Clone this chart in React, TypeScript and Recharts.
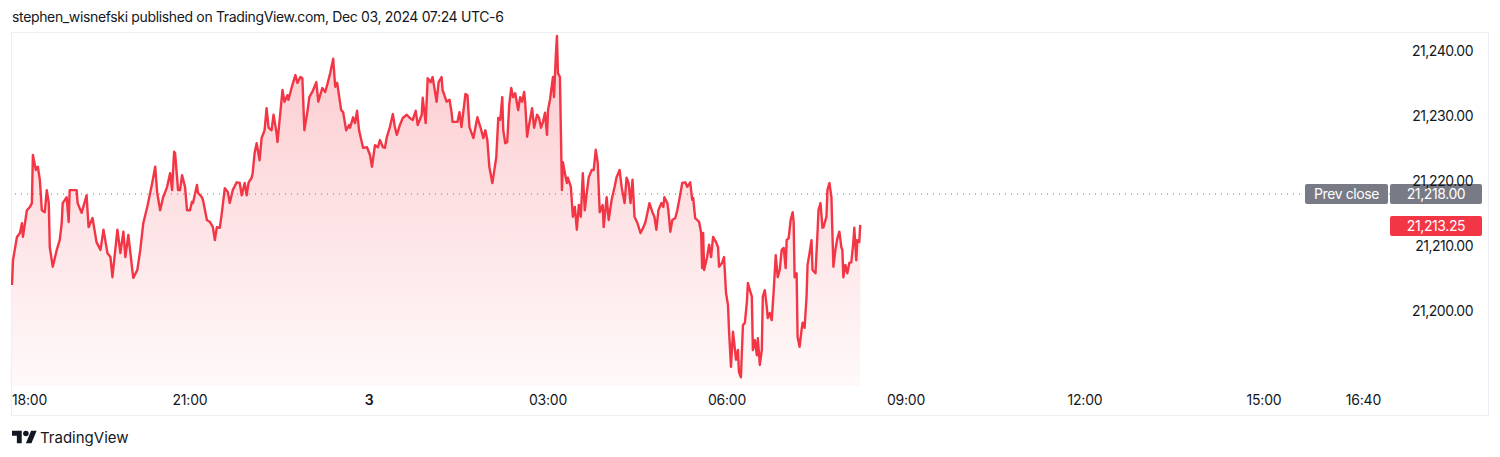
import { AreaChart, Area, XAxis, YAxis, ReferenceLine } from 'recharts';

// minutes since 18:00 (Dec 2 session open)
const times = [
  1, 2, 6, 9, 11, 12, 16, 19, 21, 22,
  25, 27, 29, 31, 34, 36, 38, 39, 42, 46,
  49, 51, 52, 56, 58, 59, 62, 66, 67, 71,
  76, 78, 82, 86, 90, 93, 97, 100, 102, 107,
  110, 113, 115, 118, 122, 123, 127, 130, 133, 137,
  140, 142, 145, 147, 150, 153, 157, 160, 162, 164,
  165, 168, 170, 172, 175, 177, 180, 182, 183, 187,
  188, 192, 193, 197, 200, 203, 205, 207, 210, 212,
  215, 218, 220, 223, 227, 230, 232, 235, 237, 239,
  242, 243, 245, 247, 250, 252, 255, 257, 259, 262,
  264, 267, 268, 273, 275, 278, 279, 283, 286, 288,
  291, 293, 295, 298, 300, 303, 307, 309, 313, 316,
  318, 321, 324, 326, 328, 332, 334, 337, 340, 341,
  344, 346, 348, 350, 353, 354, 358, 361, 363, 366,
  369, 371, 374, 376, 378, 381, 384, 386, 388, 391,
  394, 398, 401, 404, 407, 409, 413, 414, 417, 419,
  422, 424, 428, 430, 433, 434, 438, 441, 443, 444,
  449, 451, 453, 457, 459, 461, 465, 469, 472, 475,
  477, 479, 481, 484, 485, 488, 490, 492, 494, 495,
  497, 499, 501, 503, 505, 507, 510, 512, 514, 516,
  517, 519, 520, 524, 526, 529, 531, 533, 535, 537,
  539, 540, 542, 545, 546, 548, 549, 550, 552, 554,
  555, 557, 559, 560, 563, 565, 567, 569, 571, 573,
  575, 577, 579, 581, 584, 586, 588, 590, 592, 595,
  596, 599, 601, 604, 607, 609, 612, 614, 617, 619,
  621, 623, 625, 627, 630, 633, 636, 638, 640, 642,
  645, 647, 649, 651, 654, 656, 657, 660, 661, 663,
  665, 668, 670, 672, 675, 678, 680, 683, 685, 686,
  688, 690, 692, 694, 695, 696, 697, 700, 702, 704,
  706, 709, 711, 712, 715, 717, 719, 721, 722, 724,
  726, 727, 729, 731, 732, 734, 736, 738, 740, 741,
  743, 745, 746, 748, 750, 751, 753, 755, 756, 758,
  760, 761, 763, 765, 767, 769, 771, 773, 775, 777,
  779, 780, 782, 784, 786, 787, 788, 790, 791, 793,
  795, 796, 798, 800, 801, 803, 805, 806, 809, 811,
  812, 814, 816, 817, 820, 821, 823, 825, 826, 827,
  829, 831, 833, 835, 836, 837, 839, 841, 843, 845,
  847, 848, 850, 851, 853, 854,
];

const prices = [
  21204.0, 21207.8, 21211.4, 21212.0, 21213.5, 21211.4, 21215.5, 21216.0, 21216.6, 21224.0,
  21221.7, 21222.2, 21220.2, 21215.5, 21215.2, 21218.6, 21216.6, 21209.8, 21206.8, 21209.4,
  21210.9, 21213.5, 21216.6, 21217.5, 21213.7, 21218.6, 21218.6, 21218.6, 21216.6, 21215.1,
  21217.8, 21212.9, 21214.3, 21210.6, 21209.4, 21212.5, 21208.9, 21208.3, 21205.2, 21212.5,
  21208.9, 21212.2, 21208.3, 21211.7, 21206.3, 21205.1, 21206.3, 21209.4, 21213.5, 21216.0,
  21218.2, 21219.7, 21222.2, 21218.2, 21215.5, 21217.5, 21219.1, 21221.2, 21218.6, 21224.5,
  21224.3, 21218.6, 21218.6, 21220.9, 21219.1, 21215.5, 21215.5, 21216.8, 21216.6, 21219.4,
  21218.2, 21217.5, 21217.1, 21214.0, 21213.7, 21212.9, 21210.9, 21212.9, 21212.8, 21215.1,
  21218.9, 21218.3, 21216.6, 21218.6, 21219.8, 21219.7, 21217.8, 21219.7, 21217.8, 21219.8,
  21220.5, 21221.2, 21224.3, 21225.8, 21223.2, 21226.6, 21227.8, 21231.2, 21228.2, 21227.8,
  21230.2, 21227.4, 21226.0, 21234.0, 21232.2, 21233.2, 21232.5, 21234.8, 21236.3, 21235.1,
  21236.0, 21235.8, 21227.8, 21230.6, 21232.9, 21233.7, 21235.2, 21232.2, 21234.3, 21233.7,
  21234.8, 21236.6, 21238.8, 21234.5, 21235.1, 21230.9, 21230.6, 21227.8, 21228.6, 21228.2,
  21229.8, 21228.9, 21230.8, 21227.8, 21225.8, 21225.1, 21225.2, 21224.0, 21222.2, 21225.5,
  21225.2, 21226.3, 21225.2, 21225.1, 21226.8, 21228.3, 21230.3, 21228.3, 21227.1, 21228.6,
  21229.7, 21230.2, 21229.7, 21229.4, 21230.8, 21228.6, 21230.2, 21232.8, 21228.9, 21235.8,
  21235.2, 21236.0, 21232.2, 21235.2, 21236.0, 21234.0, 21232.2, 21232.5, 21230.6, 21229.1,
  21229.1, 21230.6, 21228.3, 21233.4, 21233.2, 21228.3, 21226.6, 21229.8, 21228.3, 21226.6,
  21227.8, 21226.3, 21222.2, 21219.7, 21220.6, 21223.7, 21229.7, 21229.4, 21232.9, 21227.8,
  21225.8, 21226.0, 21231.7, 21234.3, 21232.9, 21233.5, 21230.9, 21232.9, 21232.2, 21233.7,
  21232.2, 21226.8, 21227.8, 21231.2, 21228.2, 21230.2, 21229.7, 21228.2, 21229.1, 21230.5,
  21227.1, 21230.9, 21232.5, 21236.0, 21232.9, 21239.7, 21242.3, 21236.6, 21236.0, 21218.6,
  21222.9, 21221.2, 21219.7, 21220.5, 21219.1, 21214.5, 21216.0, 21212.5, 21216.3, 21214.5,
  21221.2, 21215.5, 21218.2, 21220.6, 21221.7, 21221.7, 21224.8, 21222.8, 21215.2, 21216.3,
  21212.9, 21217.5, 21214.0, 21217.1, 21219.1, 21220.6, 21221.7, 21219.1, 21216.6, 21220.5,
  21219.7, 21216.6, 21220.2, 21214.5, 21213.5, 21212.0, 21212.9, 21213.7, 21215.1, 21216.6,
  21215.2, 21214.5, 21212.5, 21215.5, 21216.6, 21216.0, 21217.5, 21216.6, 21215.5, 21212.2,
  21214.0, 21214.3, 21215.5, 21217.1, 21219.7, 21219.8, 21219.1, 21219.8, 21217.1, 21217.4,
  21214.3, 21214.0, 21213.7, 21212.0, 21206.6, 21212.0, 21206.3, 21208.3, 21210.2, 21208.3,
  21211.4, 21210.6, 21209.8, 21206.8, 21207.4, 21208.3, 21202.8, 21200.9, 21197.1, 21191.4,
  21196.8, 21195.5, 21192.5, 21194.0, 21190.6, 21189.8, 21197.8, 21198.2, 21201.4, 21204.3,
  21203.2, 21202.2, 21194.0, 21195.5, 21193.2, 21195.8, 21191.7, 21194.0, 21202.2, 21203.2,
  21200.6, 21198.9, 21199.7, 21198.6, 21203.2, 21208.6, 21205.2, 21206.3, 21209.4, 21209.7,
  21206.6, 21210.9, 21211.2, 21214.0, 21215.2, 21213.7, 21205.2, 21205.8, 21196.0, 21194.5,
  21197.1, 21198.2, 21197.4, 21202.2, 21207.1, 21208.9, 21210.9, 21206.3, 21205.8, 21212.0,
  21215.5, 21216.6, 21212.8, 21212.9, 21214.5, 21218.6, 21219.7, 21217.5, 21212.0, 21206.8,
  21209.4, 21211.2, 21212.2, 21209.8, 21209.4, 21205.2, 21207.1, 21205.8, 21207.4, 21207.5,
  21210.5, 21212.8, 21207.8, 21210.9, 21210.6, 21213.25,
];

const timeTicks = [0, 180, 360, 540, 720, 900, 1080, 1260, 1360];
const timeLabels = ['18:00', '21:00', '3', '03:00', '06:00', '09:00', '12:00', '15:00', '16:40'];
const priceTicks = [21200, 21210, 21220, 21230, 21240];
const prevClose = 21218;
const lastPrice = prices[prices.length - 1];

const data = times.map((t, i) => ({ t, price: prices[i] }));

const RED = '#f23645';
const GREY = '#787b86';
const TEXT = '#131722';

const CHART_W = 1477;
const CHART_H = 382;
const AXIS_W = 98;
const AXIS_H = 29;

const fmt = (v: number) =>
  v.toLocaleString('en-US', { minimumFractionDigits: 2, maximumFractionDigits: 2 });

const TimeTick = (props: any) => {
  const { x, payload } = props;
  const i = timeTicks.indexOf(payload.value);
  const first = i === 0;
  return (
    <text
      x={first ? x + 1 : x}
      y={CHART_H - AXIS_H + 14}
      dy="0.35em"
      textAnchor={first ? 'start' : 'middle'}
      fontSize={14}
      fill={TEXT}
      fontWeight={timeLabels[i] === '3' ? 600 : 400}
      style={{ letterSpacing: '-0.2px' }}
    >
      {timeLabels[i]}
    </text>
  );
};

const PriceTick = (props: any) => {
  const { y, payload } = props;
  return (
    <text
      x={CHART_W - 15}
      y={y}
      dy="0.35em"
      textAnchor="end"
      fontSize={14}
      fill={TEXT}
      style={{ letterSpacing: '-0.5px' }}
    >
      {fmt(payload.value)}
    </text>
  );
};

const tagText = { letterSpacing: '-0.4px' };

const PrevCloseTag = (props: any) => {
  const { viewBox } = props;
  if (!viewBox) return null;
  const right = viewBox.x + viewBox.width;
  const y = viewBox.y;
  return (
    <g>
      <rect x={right - 85} y={y - 10} width={83} height={20} rx={2} fill={GREY} />
      <text x={right - 43.5} y={y} dy="0.35em" textAnchor="middle" fontSize={14} fill="#fff" style={tagText}>
        Prev close
      </text>
      <rect x={right} y={y - 10} width={92} height={20} rx={2} fill={GREY} />
      <text x={right + 46} y={y} dy="0.35em" textAnchor="middle" fontSize={14} fill="#fff" style={tagText}>
        {fmt(prevClose)}
      </text>
    </g>
  );
};

const LastTag = (props: any) => {
  const { viewBox } = props;
  if (!viewBox) return null;
  const right = viewBox.x + viewBox.width;
  const y = viewBox.y + 1;
  return (
    <g>
      <rect x={right} y={y - 10} width={92} height={20} rx={2} fill={RED} />
      <text x={right + 46} y={y} dy="0.35em" textAnchor="middle" fontSize={14} fill="#fff" style={tagText}>
        {fmt(lastPrice)}
      </text>
    </g>
  );
};

export default function App() {
  return (
    <div
      style={{
        position: 'absolute',
        left: 0,
        top: 0,
        width: 1500,
        height: 457,
        background: '#fff',
        fontFamily: 'Inter, sans-serif',
        color: TEXT,
      }}
    >
      <div
        style={{
          position: 'absolute',
          left: 12,
          top: 8,
          fontSize: 14,
          lineHeight: '18px',
          letterSpacing: '-0.35px',
          whiteSpace: 'nowrap',
        }}
      >
        stephen_wisnefski published on TradingView.com, Dec 03, 2024 07:24 UTC-6
      </div>

      <div
        style={{
          position: 'absolute',
          left: 11,
          top: 32,
          width: 1476,
          height: 382,
          border: '1px solid #eceff4',
        }}
      />

      <div style={{ position: 'absolute', left: 11, top: 33 }}>
        <AreaChart width={CHART_W} height={CHART_H} data={data} margin={{ top: 0, right: 0, left: 0, bottom: 0 }}>
          <defs>
            <linearGradient id="esFill" x1="0" y1="0" x2="0" y2="1">
              <stop offset="0%" stopColor={RED} stopOpacity={0.26} />
              <stop offset="100%" stopColor={RED} stopOpacity={0.03} />
            </linearGradient>
          </defs>
          <XAxis
            dataKey="t"
            type="number"
            domain={[0, 1386.7]}
            ticks={timeTicks}
            tick={<TimeTick />}
            axisLine={false}
            tickLine={false}
            height={AXIS_H}
            interval={0}
            allowDataOverflow
          />
          <YAxis
            orientation="right"
            type="number"
            domain={[21188.462, 21242.769]}
            ticks={priceTicks}
            tick={<PriceTick />}
            axisLine={false}
            tickLine={false}
            width={AXIS_W}
            interval={0}
            allowDataOverflow
          />
          <ReferenceLine
            y={prevClose}
            stroke={GREY}
            strokeWidth={1}
            strokeDasharray="1 5"
            label={<PrevCloseTag />}
          />
          <ReferenceLine y={lastPrice} stroke="none" label={<LastTag />} />
          <Area
            type="linear"
            dataKey="price"
            stroke={RED}
            strokeWidth={2.4}
            strokeLinejoin="round"
            fill="url(#esFill)"
            fillOpacity={1}
            dot={false}
            activeDot={false}
            isAnimationActive={false}
          />
        </AreaChart>
      </div>

      <div style={{ position: 'absolute', left: 12, top: 428, display: 'flex', alignItems: 'center' }}>
        <svg width={25} height={19.5} viewBox="0 0 36 28">
          <path d="M14 22H7V11H0V4h14v18zM28 22h-8l7.5-18h8L28 22z" fill={TEXT} />
          <circle cx={20} cy={8} r={4} fill={TEXT} />
        </svg>
        <span style={{ marginLeft: 3, fontSize: 15, lineHeight: '19px' }}>TradingView</span>
      </div>
    </div>
  );
}
